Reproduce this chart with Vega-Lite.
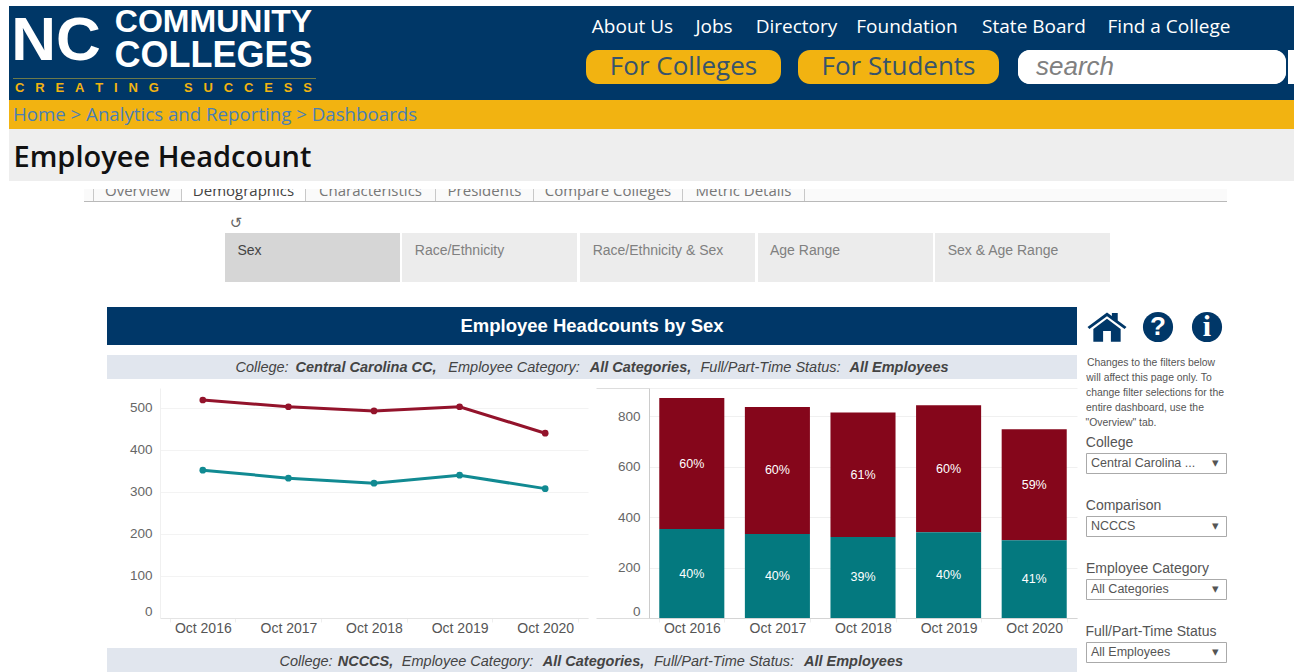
{"$schema":"https://vega.github.io/schema/vega-lite/v6.json","padding":0,"background":"#ffffff","spacing":0,
"data":{"values":[{"k":1}]},
"datasets":{"sex":[
{"period":"Oct 2016","sex":"Female","headcount":519,"share":0.6},{"period":"Oct 2017","sex":"Female","headcount":503,"share":0.6},{"period":"Oct 2018","sex":"Female","headcount":493,"share":0.61},{"period":"Oct 2019","sex":"Female","headcount":503,"share":0.6},{"period":"Oct 2020","sex":"Female","headcount":440,"share":0.59},
{"period":"Oct 2016","sex":"Male","headcount":352,"share":0.4},{"period":"Oct 2017","sex":"Male","headcount":333,"share":0.4},{"period":"Oct 2018","sex":"Male","headcount":321,"share":0.39},{"period":"Oct 2019","sex":"Male","headcount":340,"share":0.4},{"period":"Oct 2020","sex":"Male","headcount":308,"share":0.41}]},
"config":{"font":"Liberation Sans","view":{"stroke":null},"concat":{"spacing":0}},
"vconcat":[
{"width":1294,"height":6,"mark":{"type":"rect","opacity":0},"encoding":{}},
{"hconcat":[
 {"width":9,"height":94,"mark":{"type":"rect","opacity":0},"encoding":{}},
 {"vconcat":[
  {"hconcat":[
   {"vconcat":[
    {"width":94,"height":69,"view":{"fill":"#003767"},"data":{"values":[{"label":"NC"}]},"mark":{"type":"text","fontWeight":"bold","fontSize":62,"color":"#ffffff"},"encoding":{"text":{"field":"label"}}},
    {"width":94,"height":3,"view":{"fill":"#003767"},"mark":{"type":"rect","opacity":0},"encoding":{}}],"spacing":0},
   {"vconcat":[
    {"width":221,"height":32,"view":{"fill":"#003767"},"data":{"values":[{"label":"COMMUNITY"}]},"mark":{"type":"text","fontWeight":"bold","fontSize":32,"color":"#ffffff"},"encoding":{"text":{"field":"label"}}},
    {"width":221,"height":36,"view":{"fill":"#003767"},"data":{"values":[{"label":"COLLEGES"}]},"mark":{"type":"text","fontWeight":"bold","fontSize":36,"color":"#ffffff"},"encoding":{"text":{"field":"label"}}},
    {"width":221,"height":4,"view":{"fill":"#003767"},"mark":{"type":"rect","opacity":0},"encoding":{}}],"spacing":0}
  ],"spacing":0},
  {"hconcat":[
   {"width":4,"height":1,"view":{"fill":"#003767"},"mark":{"type":"rect","opacity":0},"encoding":{}},
   {"width":303,"height":1,"view":{"fill":"#6d7a4a"},"mark":{"type":"rect","opacity":0},"encoding":{}},
   {"width":8,"height":1,"view":{"fill":"#003767"},"mark":{"type":"rect","opacity":0},"encoding":{}}],"spacing":0},
  {"hconcat":[
   {"width":309,"height":18,"view":{"fill":"#003767"},"data":{"values":[{"label":"C\u00a0\u00a0\u00a0R\u00a0\u00a0\u00a0E\u00a0\u00a0\u00a0A\u00a0\u00a0\u00a0T\u00a0\u00a0\u00a0I\u00a0\u00a0\u00a0N\u00a0\u00a0\u00a0G\u00a0\u00a0\u00a0\u00a0\u00a0\u00a0\u00a0S\u00a0\u00a0\u00a0U\u00a0\u00a0\u00a0C\u00a0\u00a0\u00a0C\u00a0\u00a0\u00a0E\u00a0\u00a0\u00a0S\u00a0\u00a0\u00a0S"}]},"mark":{"type":"text","fontWeight":"bold","fontSize":13,"color":"#f2b311"},"encoding":{"text":{"field":"label"}}},
   {"width":6,"height":18,"view":{"fill":"#003767"},"mark":{"type":"rect","opacity":0},"encoding":{}}],"spacing":0},
  {"width":315,"height":3,"view":{"fill":"#003767"},"mark":{"type":"rect","opacity":0},"encoding":{}}
 ],"spacing":0},
 {"width":262,"height":94,"view":{"fill":"#003767"},"mark":{"type":"rect","opacity":0},"encoding":{}},
 {"vconcat":[
  {"width":708,"height":10,"view":{"fill":"#003767"},"mark":{"type":"rect","opacity":0},"encoding":{}},
  {"hconcat":[
   {"width":93,"height":22,"view":{"fill":"#003767"},"data":{"values":[{"label":"About Us"}]},"mark":{"type":"text","font":"Open Sans","fontSize":19,"color":"#ffffff"},"encoding":{"text":{"field":"label"}}},
   {"width":70,"height":22,"view":{"fill":"#003767"},"data":{"values":[{"label":"Jobs"}]},"mark":{"type":"text","font":"Open Sans","fontSize":19,"color":"#ffffff"},"encoding":{"text":{"field":"label"}}},
   {"width":95,"height":22,"view":{"fill":"#003767"},"data":{"values":[{"label":"Directory"}]},"mark":{"type":"text","font":"Open Sans","fontSize":19,"color":"#ffffff"},"encoding":{"text":{"field":"label"}}},
   {"width":126,"height":22,"view":{"fill":"#003767"},"data":{"values":[{"label":"Foundation"}]},"mark":{"type":"text","font":"Open Sans","fontSize":19,"color":"#ffffff"},"encoding":{"text":{"field":"label"}}},
   {"width":128,"height":22,"view":{"fill":"#003767"},"data":{"values":[{"label":"State Board"}]},"mark":{"type":"text","font":"Open Sans","fontSize":19,"color":"#ffffff"},"encoding":{"text":{"field":"label"}}},
   {"width":142,"height":22,"view":{"fill":"#003767"},"data":{"values":[{"label":"Find a College"}]},"mark":{"type":"text","font":"Open Sans","fontSize":19,"color":"#ffffff"},"encoding":{"text":{"field":"label"}}},
   {"width":54,"height":22,"view":{"fill":"#003767"},"mark":{"type":"rect","opacity":0},"encoding":{}}],"spacing":0},
  {"width":708,"height":12,"view":{"fill":"#003767"},"mark":{"type":"rect","opacity":0},"encoding":{}},
  {"hconcat":[
   {"width":195,"height":34,"view":{"fill":"#003767"},"data":{"values":[{"label":"For Colleges"}]},"layer":[{"mark":{"type":"rect","color":"#f2b311","cornerRadius":12},"encoding":{}},{"mark":{"type":"text","font":"Open Sans","fontSize":26,"color":"#37536b"},"encoding":{"text":{"field":"label"}}}]},
   {"width":17,"height":34,"view":{"fill":"#003767"},"mark":{"type":"rect","opacity":0},"encoding":{}},
   {"width":201,"height":34,"view":{"fill":"#003767"},"data":{"values":[{"label":"For Students"}]},"layer":[{"mark":{"type":"rect","color":"#f2b311","cornerRadius":12},"encoding":{}},{"mark":{"type":"text","font":"Open Sans","fontSize":26,"color":"#37536b"},"encoding":{"text":{"field":"label"}}}]},
   {"width":19,"height":34,"view":{"fill":"#003767"},"mark":{"type":"rect","opacity":0},"encoding":{}},
   {"width":268,"height":34,"view":{"fill":"#003767"},"data":{"values":[{"part":"value","label":"search"},{"part":"end","label":""}]},"layer":[{"mark":{"type":"rect","color":"#ffffff","cornerRadius":12},"encoding":{}},{"mark":{"type":"text","align":"left","fontStyle":"italic","fontSize":26,"color":"#808080"},"encoding":{"text":{"field":"label"},"x":{"field":"part","type":"nominal","scale":{"type":"point","padding":0,"domain":["value","end"],"range":[18,260]},"axis":null}}}]},
   {"width":2,"height":34,"view":{"fill":"#003767"},"mark":{"type":"rect","opacity":0},"encoding":{}},
   {"width":6,"height":34,"view":{"fill":"#ffffff"},"mark":{"type":"rect","opacity":0},"encoding":{}}],"spacing":0},
  {"width":708,"height":16,"view":{"fill":"#003767"},"mark":{"type":"rect","opacity":0},"encoding":{}}
 ],"spacing":0}
],"spacing":0},
{"hconcat":[
 {"width":9,"height":29,"mark":{"type":"rect","opacity":0},"encoding":{}},
 {"width":412,"height":29,"view":{"fill":"#f2b311"},"data":{"values":[{"label":"Home > Analytics and Reporting > Dashboards"}]},"mark":{"type":"text","font":"Open Sans","fontSize":18.7,"color":"#4a7fb5"},"encoding":{"text":{"field":"label"}}},
 {"width":873,"height":29,"view":{"fill":"#f2b311"},"mark":{"type":"rect","opacity":0},"encoding":{}}],"spacing":0},
{"hconcat":[
 {"width":9,"height":52,"mark":{"type":"rect","opacity":0},"encoding":{}},
 {"width":307,"height":52,"view":{"fill":"#eeeeee"},"data":{"values":[{"label":"Employee Headcount"}]},"mark":{"type":"text","font":"Open Sans","fontWeight":600,"fontSize":29,"dy":3,"color":"#111111"},"encoding":{"text":{"field":"label"}}},
 {"width":978,"height":52,"view":{"fill":"#eeeeee"},"mark":{"type":"rect","opacity":0},"encoding":{}}],"spacing":0},
{"width":1294,"height":8,"mark":{"type":"rect","opacity":0},"encoding":{}},
{"hconcat":[
 {"width":84,"height":12,"mark":{"type":"rect","opacity":0},"encoding":{}},
 {"width":9,"height":12,"view":{"fill":"#fafafa"},"mark":{"type":"rect","opacity":0},"encoding":{}},
 {"width":1,"height":12,"view":{"fill":"#c8c8c8"},"mark":{"type":"rect","opacity":0},"encoding":{}},
 {"width":87,"height":12,"view":{"fill":"#fafafa"},"data":{"values":[{"label":"Overview"}]},"mark":{"type":"text","clip":true,"baseline":"alphabetic","dy":1,"font":"Open Sans","fontSize":15,"color":"#777777"},"encoding":{"text":{"field":"label"}}},
 {"width":1,"height":12,"view":{"fill":"#c8c8c8"},"mark":{"type":"rect","opacity":0},"encoding":{}},
 {"width":123,"height":12,"data":{"values":[{"label":"Demographics"}]},"mark":{"type":"text","clip":true,"baseline":"alphabetic","dy":1,"font":"Open Sans","fontSize":15,"color":"#444444"},"encoding":{"text":{"field":"label"}}},
 {"width":1,"height":12,"view":{"fill":"#c8c8c8"},"mark":{"type":"rect","opacity":0},"encoding":{}},
 {"width":129,"height":12,"view":{"fill":"#fafafa"},"data":{"values":[{"label":"Characteristics"}]},"mark":{"type":"text","clip":true,"baseline":"alphabetic","dy":1,"font":"Open Sans","fontSize":15,"color":"#777777"},"encoding":{"text":{"field":"label"}}},
 {"width":1,"height":12,"view":{"fill":"#c8c8c8"},"mark":{"type":"rect","opacity":0},"encoding":{}},
 {"width":97,"height":12,"view":{"fill":"#fafafa"},"data":{"values":[{"label":"Presidents"}]},"mark":{"type":"text","clip":true,"baseline":"alphabetic","dy":1,"font":"Open Sans","fontSize":15,"color":"#777777"},"encoding":{"text":{"field":"label"}}},
 {"width":1,"height":12,"view":{"fill":"#c8c8c8"},"mark":{"type":"rect","opacity":0},"encoding":{}},
 {"width":148,"height":12,"view":{"fill":"#fafafa"},"data":{"values":[{"label":"Compare Colleges"}]},"mark":{"type":"text","clip":true,"baseline":"alphabetic","dy":1,"font":"Open Sans","fontSize":15,"color":"#777777"},"encoding":{"text":{"field":"label"}}},
 {"width":1,"height":12,"view":{"fill":"#c8c8c8"},"mark":{"type":"rect","opacity":0},"encoding":{}},
 {"width":121,"height":12,"view":{"fill":"#fafafa"},"data":{"values":[{"label":"Metric Details"}]},"mark":{"type":"text","clip":true,"baseline":"alphabetic","dy":1,"font":"Open Sans","fontSize":15,"color":"#777777"},"encoding":{"text":{"field":"label"}}},
 {"width":1,"height":12,"view":{"fill":"#c8c8c8"},"mark":{"type":"rect","opacity":0},"encoding":{}},
 {"width":422,"height":12,"view":{"fill":"#fafafa"},"mark":{"type":"rect","opacity":0},"encoding":{}}],"spacing":0},
{"hconcat":[
 {"width":84,"height":1,"mark":{"type":"rect","opacity":0},"encoding":{}},
 {"width":1143,"height":1,"view":{"fill":"#b9b9b9"},"mark":{"type":"rect","opacity":0},"encoding":{}}],"spacing":0},
{"width":1294,"height":11,"mark":{"type":"rect","opacity":0},"encoding":{}},
{"hconcat":[
 {"width":226,"height":20,"mark":{"type":"rect","opacity":0},"encoding":{}},
 {"width":20,"height":20,"data":{"values":[{"label":"\u21ba"}]},"mark":{"type":"text","font":"DejaVu Sans","fontSize":15,"color":"#666666"},"encoding":{"text":{"field":"label"}}}],"spacing":0},
{"hconcat":[
 {"width":225,"height":36,"mark":{"type":"rect","opacity":0},"encoding":{}},
 {"width":49,"height":36,"view":{"fill":"#d6d6d6"},"data":{"values":[{"label":"Sex"}]},"mark":{"type":"text","fontSize":14,"color":"#444444"},"encoding":{"text":{"field":"label"}}},
 {"width":126,"height":36,"view":{"fill":"#d6d6d6"},"mark":{"type":"rect","opacity":0},"encoding":{}},
 {"width":2,"height":36,"mark":{"type":"rect","opacity":0},"encoding":{}},
 {"width":115,"height":36,"view":{"fill":"#ececec"},"data":{"values":[{"label":"Race/Ethnicity"}]},"mark":{"type":"text","fontSize":14,"color":"#808080"},"encoding":{"text":{"field":"label"}}},
 {"width":60,"height":36,"view":{"fill":"#ececec"},"mark":{"type":"rect","opacity":0},"encoding":{}},
 {"width":3,"height":36,"mark":{"type":"rect","opacity":0},"encoding":{}},
 {"width":156,"height":36,"view":{"fill":"#ececec"},"data":{"values":[{"label":"Race/Ethnicity & Sex"}]},"mark":{"type":"text","fontSize":14,"color":"#808080"},"encoding":{"text":{"field":"label"}}},
 {"width":19,"height":36,"view":{"fill":"#ececec"},"mark":{"type":"rect","opacity":0},"encoding":{}},
 {"width":3,"height":36,"mark":{"type":"rect","opacity":0},"encoding":{}},
 {"width":94,"height":36,"view":{"fill":"#ececec"},"data":{"values":[{"label":"Age Range"}]},"mark":{"type":"text","fontSize":14,"color":"#808080"},"encoding":{"text":{"field":"label"}}},
 {"width":81,"height":36,"view":{"fill":"#ececec"},"mark":{"type":"rect","opacity":0},"encoding":{}},
 {"width":2,"height":36,"mark":{"type":"rect","opacity":0},"encoding":{}},
 {"width":136,"height":36,"view":{"fill":"#ececec"},"data":{"values":[{"label":"Sex & Age Range"}]},"mark":{"type":"text","fontSize":14,"color":"#808080"},"encoding":{"text":{"field":"label"}}},
 {"width":39,"height":36,"view":{"fill":"#ececec"},"mark":{"type":"rect","opacity":0},"encoding":{}}],"spacing":0},
{"hconcat":[
 {"width":225,"height":13,"mark":{"type":"rect","opacity":0},"encoding":{}},
 {"width":175,"height":13,"view":{"fill":"#d6d6d6"},"mark":{"type":"rect","opacity":0},"encoding":{}},
 {"width":2,"height":13,"mark":{"type":"rect","opacity":0},"encoding":{}},
 {"width":175,"height":13,"view":{"fill":"#ececec"},"mark":{"type":"rect","opacity":0},"encoding":{}},
 {"width":3,"height":13,"mark":{"type":"rect","opacity":0},"encoding":{}},
 {"width":175,"height":13,"view":{"fill":"#ececec"},"mark":{"type":"rect","opacity":0},"encoding":{}},
 {"width":3,"height":13,"mark":{"type":"rect","opacity":0},"encoding":{}},
 {"width":175,"height":13,"view":{"fill":"#ececec"},"mark":{"type":"rect","opacity":0},"encoding":{}},
 {"width":2,"height":13,"mark":{"type":"rect","opacity":0},"encoding":{}},
 {"width":175,"height":13,"view":{"fill":"#ececec"},"mark":{"type":"rect","opacity":0},"encoding":{}}],"spacing":0},
{"width":1294,"height":25,"mark":{"type":"rect","opacity":0},"encoding":{}},
{"hconcat":[
 {"width":107,"height":365,"mark":{"type":"rect","opacity":0},"encoding":{}},
 {"vconcat":[
  {"width":970,"height":38,"view":{"fill":"#003768"},"data":{"values":[{"label":"Employee Headcounts by Sex"}]},"mark":{"type":"text","fontWeight":"bold","fontSize":18.5,"color":"#ffffff"},"encoding":{"text":{"field":"label"}}},
  {"width":970,"height":10,"mark":{"type":"rect","opacity":0},"encoding":{}},
  {"hconcat":[
   {"width":126,"height":24,"view":{"fill":"#e1e6ee"},"mark":{"type":"rect","opacity":0},"encoding":{}},
   {"width":58,"height":24,"view":{"fill":"#e1e6ee"},"data":{"values":[{"label":"College:"}]},"mark":{"type":"text","fontStyle":"italic","fontSize":14.5,"dy":1,"color":"#444444"},"encoding":{"text":{"field":"label"}}},
   {"width":150,"height":24,"view":{"fill":"#e1e6ee"},"data":{"values":[{"label":"Central Carolina CC,"}]},"mark":{"type":"text","fontStyle":"italic","fontWeight":"bold","fontSize":14.5,"dy":1,"color":"#444444"},"encoding":{"text":{"field":"label"}}},
   {"width":146,"height":24,"view":{"fill":"#e1e6ee"},"data":{"values":[{"label":"Employee Category:"}]},"mark":{"type":"text","fontStyle":"italic","fontSize":14.5,"dy":1,"color":"#444444"},"encoding":{"text":{"field":"label"}}},
   {"width":107,"height":24,"view":{"fill":"#e1e6ee"},"data":{"values":[{"label":"All Categories,"}]},"mark":{"type":"text","fontStyle":"italic","fontWeight":"bold","fontSize":14.5,"dy":1,"color":"#444444"},"encoding":{"text":{"field":"label"}}},
   {"width":153,"height":24,"view":{"fill":"#e1e6ee"},"data":{"values":[{"label":"Full/Part-Time Status:"}]},"mark":{"type":"text","fontStyle":"italic","fontSize":14.5,"dy":1,"color":"#444444"},"encoding":{"text":{"field":"label"}}},
   {"width":104,"height":24,"view":{"fill":"#e1e6ee"},"data":{"values":[{"label":"All Employees"}]},"mark":{"type":"text","fontStyle":"italic","fontWeight":"bold","fontSize":14.5,"dy":1,"color":"#444444"},"encoding":{"text":{"field":"label"}}},
   {"width":126,"height":24,"view":{"fill":"#e1e6ee"},"mark":{"type":"rect","opacity":0},"encoding":{}}],"spacing":0},
  {"hconcat":[
   {"width":20,"height":269,"mark":{"type":"rect","opacity":0},"encoding":{}},
   {"vconcat":[
    {"width":428,"height":9,"mark":{"type":"rect","opacity":0},"encoding":{}},
    {"width":428,"height":230,"data":{"name":"sex"},
     "mark":{"type":"line","strokeWidth":3,"point":{"filled":true,"size":45}},
     "encoding":{
      "x":{"field":"period","type":"ordinal","title":null,"scale":{"paddingInner":0.24,"paddingOuter":0.12},"axis":{"labelAngle":0,"labelFontSize":14,"labelColor":"#555555","labelPadding":-1,"tickSize":4,"tickColor":"#eeeeee","tickBand":"extent","domainColor":"#e4e4e4","grid":false}},
      "y":{"field":"headcount","type":"quantitative","title":null,"scale":{"domain":[0,547.6],"nice":false},"axis":{"values":[0,100,200,300,400,500],"labelFontSize":13.5,"labelColor":"#666666","tickSize":33,"tickOpacity":0,"labelPadding":-25,"domainColor":"#f0f0f0","gridColor":"#f3f3f3","labelFlush":true,"labelFlushOffset":0}},
      "color":{"field":"sex","type":"nominal","legend":null,"scale":{"domain":["Female","Male"],"range":["#93132b","#118a92"]}}}}],"spacing":0},
   {"width":7,"height":269,"mark":{"type":"rect","opacity":0},"encoding":{}},
   {"vconcat":[
    {"width":428,"height":8,"mark":{"type":"rect","opacity":0},"encoding":{}},
    {"width":428,"height":230,"data":{"name":"sex"},
     "encoding":{
      "x":{"field":"period","type":"ordinal","title":null,"scale":{"paddingInner":0.24,"paddingOuter":0.12},"axis":{"labelAngle":0,"labelFontSize":14,"labelColor":"#555555","labelPadding":-1,"tickSize":4,"tickColor":"#eeeeee","tickBand":"extent","domainColor":"#d4d4d4","grid":false}},
      "y":{"field":"headcount","type":"quantitative","title":null,"stack":"zero","scale":{"domain":[0,910.9],"nice":false},"axis":{"values":[0,200,400,600,800,910.9],"labelExpr":"datum.value>900?'':datum.label","labelFontSize":13.5,"labelColor":"#666666","tickSize":53,"tickColor":"#dddddd","tickOpacity":{"condition":{"test":"datum.value===0||datum.value>900","value":1},"value":0},"labelPadding":-44,"domainColor":"#cccccc","gridColor":"#f0f0f0","labelFlush":true,"labelFlushOffset":0}},
      "order":{"field":"sex","sort":"descending"}},
     "layer":[
      {"mark":"bar","encoding":{"fill":{"field":"sex","type":"nominal","legend":null,"scale":{"domain":["Female","Male"],"range":["#85061b","#04797f"]}}}},
      {"mark":{"type":"text","fontSize":12.5,"color":"#ffffff"},"encoding":{"detail":{"field":"sex"},"y":{"field":"headcount","type":"quantitative","stack":"zero","bandPosition":0.5},"text":{"field":"share","type":"quantitative","format":".0%"}}}]}],"spacing":0}
  ],"spacing":0},
  {"hconcat":[
   {"width":170,"height":24,"view":{"fill":"#e1e6ee"},"mark":{"type":"rect","opacity":0},"encoding":{}},
   {"width":58,"height":24,"view":{"fill":"#e1e6ee"},"data":{"values":[{"label":"College:"}]},"mark":{"type":"text","fontStyle":"italic","fontSize":14.5,"dy":2,"color":"#444444"},"encoding":{"text":{"field":"label"}}},
   {"width":61,"height":24,"view":{"fill":"#e1e6ee"},"data":{"values":[{"label":"NCCCS,"}]},"mark":{"type":"text","fontStyle":"italic","fontWeight":"bold","fontSize":14.5,"dy":2,"color":"#444444"},"encoding":{"text":{"field":"label"}}},
   {"width":143,"height":24,"view":{"fill":"#e1e6ee"},"data":{"values":[{"label":"Employee Category:"}]},"mark":{"type":"text","fontStyle":"italic","fontSize":14.5,"dy":2,"color":"#444444"},"encoding":{"text":{"field":"label"}}},
   {"width":109,"height":24,"view":{"fill":"#e1e6ee"},"data":{"values":[{"label":"All Categories,"}]},"mark":{"type":"text","fontStyle":"italic","fontWeight":"bold","fontSize":14.5,"dy":2,"color":"#444444"},"encoding":{"text":{"field":"label"}}},
   {"width":152,"height":24,"view":{"fill":"#e1e6ee"},"data":{"values":[{"label":"Full/Part-Time Status:"}]},"mark":{"type":"text","fontStyle":"italic","fontSize":14.5,"dy":2,"color":"#444444"},"encoding":{"text":{"field":"label"}}},
   {"width":107,"height":24,"view":{"fill":"#e1e6ee"},"data":{"values":[{"label":"All Employees"}]},"mark":{"type":"text","fontStyle":"italic","fontWeight":"bold","fontSize":14.5,"dy":2,"color":"#444444"},"encoding":{"text":{"field":"label"}}},
   {"width":170,"height":24,"view":{"fill":"#e1e6ee"},"mark":{"type":"rect","opacity":0},"encoding":{}}],"spacing":0}
 ],"spacing":0},
 {"width":8,"height":365,"mark":{"type":"rect","opacity":0},"encoding":{}},
 {"vconcat":[
  {"hconcat":[
   {"width":42,"height":40,"data":{"values":[{"label":"home"}]},"mark":{"type":"point","filled":true,"opacity":1,"color":"#003768","size":1521,"shape":"M-1 0L0-.75L.25-.56L.25-.72L.55-.72L.55-.33L1 0L.9.1L0-.55L-.9.1ZM-.7.1L0-.42L.7.1L.7.75L.2.75L.2.2L-.2.2L-.2.75L-.7.75Z"},"encoding":{}},
   {"width":6,"height":40,"mark":{"type":"rect","opacity":0},"encoding":{}},
   {"width":48,"height":40,"data":{"values":[{"label":"?"}]},"layer":[{"mark":{"type":"circle","opacity":1,"color":"#003768","size":908},"encoding":{}},{"mark":{"type":"text","fontWeight":"bold","fontSize":26,"color":"#ffffff"},"encoding":{"text":{"field":"label"}}}]},
   {"width":50,"height":40,"data":{"values":[{"label":"i"}]},"layer":[{"mark":{"type":"circle","opacity":1,"color":"#003768","size":908},"encoding":{}},{"mark":{"type":"text","font":"Liberation Serif","fontWeight":"bold","fontSize":30,"color":"#ffffff"},"encoding":{"text":{"field":"label"}}}]}],"spacing":0},
  {"width":140,"height":9,"mark":{"type":"rect","opacity":0},"encoding":{}},
  {"width":130,"height":14.5,"data":{"values":[{"label":"Changes to the filters below"}]},"mark":{"type":"text","fontSize":10.4,"color":"#555555"},"encoding":{"text":{"field":"label"}}},
  {"width":126,"height":14.5,"data":{"values":[{"label":"will affect this page only. To"}]},"mark":{"type":"text","fontSize":10.4,"color":"#555555"},"encoding":{"text":{"field":"label"}}},
  {"width":138,"height":14.5,"data":{"values":[{"label":"change filter selections for the"}]},"mark":{"type":"text","fontSize":10.4,"color":"#555555"},"encoding":{"text":{"field":"label"}}},
  {"width":118,"height":14.5,"data":{"values":[{"label":"entire dashboard, use the"}]},"mark":{"type":"text","fontSize":10.4,"color":"#555555"},"encoding":{"text":{"field":"label"}}},
  {"width":70,"height":14.5,"data":{"values":[{"label":"\"Overview\" tab."}]},"mark":{"type":"text","fontSize":10.4,"color":"#555555"},"encoding":{"text":{"field":"label"}}},
  {"width":140,"height":4.5,"mark":{"type":"rect","opacity":0},"encoding":{}},
  {"width":47,"height":14,"data":{"values":[{"label":"College"}]},"mark":{"type":"text","fontSize":14,"color":"#555555"},"encoding":{"text":{"field":"label"}}},
  {"width":140,"height":2,"mark":{"type":"rect","opacity":0},"encoding":{}},
  {"width":140,"height":20,"view":{"stroke":"#aaaaaa"},"data":{"values":[{"part":"value","label":"Central Carolina ..."},{"part":"arrow","label":"\u25be"}]},"mark":{"type":"text","align":"left","fontSize":12.5,"color":"#555555"},"encoding":{"text":{"field":"label"},"x":{"field":"part","type":"nominal","scale":{"type":"point","padding":0,"domain":["value","arrow"],"range":[5,126]},"axis":null}}},
  {"width":140,"height":25,"mark":{"type":"rect","opacity":0},"encoding":{}},
  {"width":75,"height":14,"data":{"values":[{"label":"Comparison"}]},"mark":{"type":"text","fontSize":14,"color":"#555555"},"encoding":{"text":{"field":"label"}}},
  {"width":140,"height":2,"mark":{"type":"rect","opacity":0},"encoding":{}},
  {"width":140,"height":20,"view":{"stroke":"#aaaaaa"},"data":{"values":[{"part":"value","label":"NCCCS"},{"part":"arrow","label":"\u25be"}]},"mark":{"type":"text","align":"left","fontSize":12.5,"color":"#555555"},"encoding":{"text":{"field":"label"},"x":{"field":"part","type":"nominal","scale":{"type":"point","padding":0,"domain":["value","arrow"],"range":[5,126]},"axis":null}}},
  {"width":140,"height":25,"mark":{"type":"rect","opacity":0},"encoding":{}},
  {"width":123,"height":14,"data":{"values":[{"label":"Employee Category"}]},"mark":{"type":"text","fontSize":14,"color":"#555555"},"encoding":{"text":{"field":"label"}}},
  {"width":140,"height":2,"mark":{"type":"rect","opacity":0},"encoding":{}},
  {"width":140,"height":20,"view":{"stroke":"#aaaaaa"},"data":{"values":[{"part":"value","label":"All Categories"},{"part":"arrow","label":"\u25be"}]},"mark":{"type":"text","align":"left","fontSize":12.5,"color":"#555555"},"encoding":{"text":{"field":"label"},"x":{"field":"part","type":"nominal","scale":{"type":"point","padding":0,"domain":["value","arrow"],"range":[5,126]},"axis":null}}},
  {"width":140,"height":25,"mark":{"type":"rect","opacity":0},"encoding":{}},
  {"width":130,"height":14,"data":{"values":[{"label":"Full/Part-Time Status"}]},"mark":{"type":"text","fontSize":14,"color":"#555555"},"encoding":{"text":{"field":"label"}}},
  {"width":140,"height":2,"mark":{"type":"rect","opacity":0},"encoding":{}},
  {"width":140,"height":20,"view":{"stroke":"#aaaaaa"},"data":{"values":[{"part":"value","label":"All Employees"},{"part":"arrow","label":"\u25be"}]},"mark":{"type":"text","align":"left","fontSize":12.5,"color":"#555555"},"encoding":{"text":{"field":"label"},"x":{"field":"part","type":"nominal","scale":{"type":"point","padding":0,"domain":["value","arrow"],"range":[5,126]},"axis":null}}}
 ],"spacing":0}
],"spacing":0}
]}
